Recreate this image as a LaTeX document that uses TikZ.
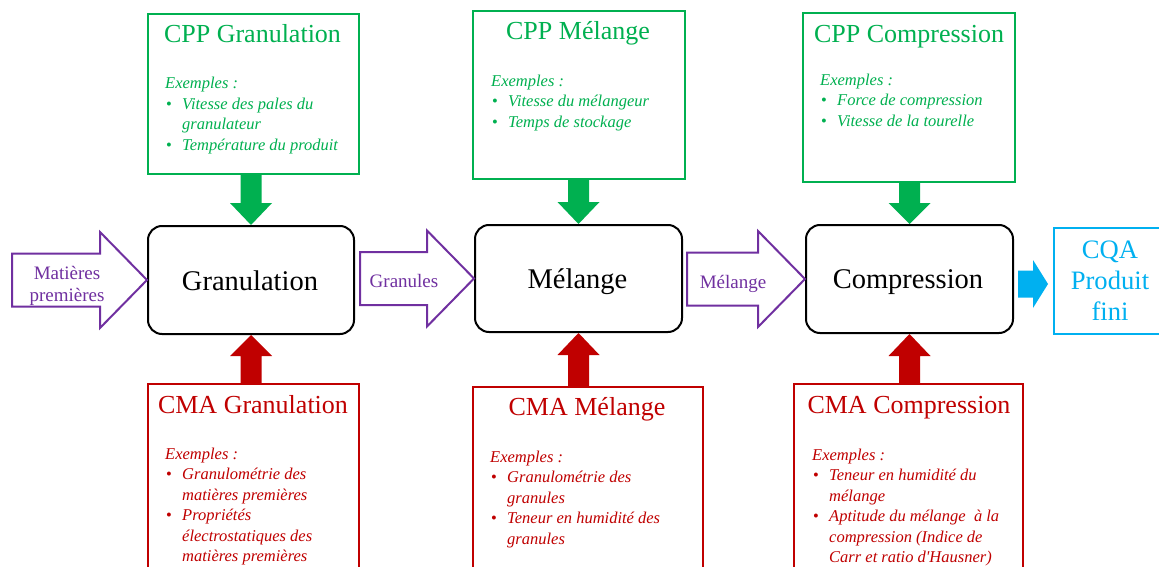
\documentclass[tikz,border=0pt]{standalone}
\usepackage{fontspec}
\setmainfont{Liberation Serif}
\usetikzlibrary{calc}
\definecolor{cgreen}{RGB}{0,176,80}
\definecolor{cred}{RGB}{192,0,0}
\definecolor{cpurple}{RGB}{112,48,160}
\definecolor{cblue}{RGB}{0,176,240}
\newcommand{\bul}{\hspace*{1pt}\makebox[16pt][l]{\upshape\textbullet}}
\newcommand{\cont}{\hspace*{17pt}}
% vertical fat arrow: #1 from node anchor (y), #2 to node anchor (x,y), #3 colour, #4 head base offset (canvas pt)
\newcommand{\vfat}[4]{%
  \fill[#3] let \p1=(#1), \p2=(#2) in
    ({\x2-10.5pt},\y1) -- ({\x2+10.5pt},\y1) -- ({\x2+10.5pt},{\y2+#4}) --
    ({\x2+21pt},{\y2+#4}) -- (\x2,\y2) -- ({\x2-21pt},{\y2+#4}) --
    ({\x2-10.5pt},{\y2+#4}) -- cycle;}
% horizontal outline arrow: #1 start coordinate, #2 tip anchor, #3 head base x offset (canvas pt, negative)
\newcommand{\hfat}[3]{%
  \draw[purplearrow] let \p1=(#1), \p2=(#2) in
    (\x1,{\y2+26.5pt}) -- ({\x2+#3},{\y2+26.5pt}) -- ({\x2+#3},{\y2+48pt}) --
    (\x2,\y2) -- ({\x2+#3},{\y2-48pt}) -- ({\x2+#3},{\y2-26.5pt}) --
    (\x1,{\y2-26.5pt}) -- cycle;}
\begin{document}
\begin{tikzpicture}[x=1pt,y=-1pt,
  procbox/.style={draw=black,line width=2pt,rounded corners=14pt,fill=white,
    anchor=north west,inner sep=0pt},
  cppbox/.style={draw=cgreen,line width=2pt,anchor=north west,inner sep=0pt},
  cmabox/.style={draw=cred,line width=2pt,anchor=north west,inner sep=0pt},
  titletext/.style={anchor=base,inner sep=0pt,font=\fontsize{26}{30}\selectfont},
  listtext/.style={anchor=north west,inner sep=0pt,align=left,
    font=\fontsize{16.5}{20.5}\selectfont\itshape},
  proctext/.style={anchor=base,inner sep=0pt,font=\fontsize{28.5}{32}\selectfont},
  purplearrow/.style={draw=cpurple,line width=2pt,fill=white,line join=miter},
  purpletext/.style={anchor=north,inner sep=0pt,align=center,text=cpurple,
    font=\fontsize{19}{22.7}\selectfont}
]
\clip (0,0) rectangle (1159,567);
\fill[white] (0,0) rectangle (1159,567);

% process boxes
\node[procbox,minimum width=206pt,minimum height=108pt] (gran) at (147,225) {};
\node[procbox,minimum width=207pt,minimum height=107pt] (mel) at (474,224) {};
\node[procbox,minimum width=207pt,minimum height=108pt] (comp) at (805,224) {};
\node[proctext] (granT) at (250,290) {Granulation};
\node[proctext] (melT) at (577.5,288) {Mélange};
\node[proctext] (compT) at (908,288) {Compression};

% CPP boxes
\node[cppbox,minimum width=211pt,minimum height=160pt] (cppG) at (147,13) {};
\node[cppbox,minimum width=212pt,minimum height=168pt] (cppM) at (472,10) {};
\node[cppbox,minimum width=212pt,minimum height=169pt] (cppC) at (802,12) {};

% CMA boxes
\node[cmabox,minimum width=211pt,minimum height=200pt] (cmaG) at (147,383) {};
\node[cmabox,minimum width=230pt,minimum height=200pt] (cmaM) at (472,386) {};
\node[cmabox,minimum width=229pt,minimum height=200pt] (cmaC) at (793,383) {};

% CQA box
\node[draw=cblue,line width=2pt,anchor=north west,inner sep=0pt,
  minimum width=120pt,minimum height=106pt] (cqa) at (1053,227) {};
\node[anchor=north,inner sep=0pt,align=center,text=cblue,
  font=\fontsize{26.6}{31}\selectfont] (cqaT) at (1110,236.3)
  {\strut CQA\\Produit\\fini};

% CPP texts
\node[titletext,text=cgreen] (cppGt) at (252.5,43) {CPP Granulation};
\node[listtext,text=cgreen] (cppGl) at (165,74.15)
  {\strut Exemples :\\ \bul Vitesse des pales du\\ \cont granulateur\\ \bul Température du produit};
\node[titletext,text=cgreen] (cppMt) at (578,40) {CPP Mélange};
\node[listtext,text=cgreen] (cppMl) at (491,71.65)
  {\strut Exemples :\\ \bul Vitesse du mélangeur\\ \bul Temps de stockage};
\node[titletext,text=cgreen] (cppCt) at (909,42.7) {CPP Compression};
\node[listtext,text=cgreen] (cppCl) at (820,70.65)
  {\strut Exemples :\\ \bul Force de compression\\ \bul Vitesse de la tourelle};

% CMA texts
\node[titletext,text=cred] (cmaGt) at (253,413) {CMA Granulation};
\node[listtext,text=cred] (cmaGl) at (165,444.65)
  {\strut Exemples :\\ \bul Granulométrie des\\ \cont matières premières\\ \bul Propriétés\\ \cont électrostatiques des\\ \cont matières premières};
\node[titletext,text=cred] (cmaMt) at (587,415) {CMA Mélange};
\node[listtext,text=cred] (cmaMl) at (490,447.65)
  {\strut Exemples :\\ \bul Granulométrie des\\ \cont granules\\ \bul Teneur en humidité des\\ \cont granules};
\node[titletext,text=cred] (cmaCt) at (909,413) {CMA Compression};
\node[listtext,text=cred] (cmaCl) at (812,445.65)
  {\strut Exemples :\\ \bul Teneur en humidité du\\ \cont mélange\\ \bul Aptitude du mélange \ à la\\ \cont compression (Indice de\\ \cont Carr et ratio d\textquotesingle Hausner)};

% green arrows (down)
\vfat{cppG.south}{gran.north}{cgreen}{22pt}
\vfat{cppM.south}{mel.north}{cgreen}{22pt}
\vfat{cppC.south}{comp.north}{cgreen}{21pt}
% red arrows (up)
\vfat{cmaG.north}{gran.south}{cred}{-21pt}
\vfat{cmaM.north}{mel.south}{cred}{-22pt}
\vfat{cmaC.north}{comp.south}{cred}{-22pt}

% purple outline arrows
\coordinate (mpS) at (12,280);
\coordinate (grS) at (360,280);
\coordinate (meS) at (687,280);
\hfat{mpS}{gran.west}{-47pt}
\hfat{grS}{mel.west}{-47pt}
\hfat{meS}{comp.west}{-47pt}
\node[purpletext] (mpT) at (67,263.1) {\strut Matières\\premières};
\node[purpletext] (grT) at (404,271.4) {\strut Granules};
\node[purpletext] (meT) at (733,272.4) {\strut Mélange};

% blue arrow
\coordinate (blS) at (1018,280);
\coordinate (blE) at (1048,284);
\fill[cblue] let \p1=(blS), \p2=(blE) in
  (\x1,{\y2+13.5pt}) -- ({\x2-15pt},{\y2+13.5pt}) -- ({\x2-15pt},{\y2+24pt}) --
  (\x2,\y2) -- ({\x2-15pt},{\y2-24pt}) -- ({\x2-15pt},{\y2-13.5pt}) --
  (\x1,{\y2-13.5pt}) -- cycle;
\end{tikzpicture}
\end{document}
